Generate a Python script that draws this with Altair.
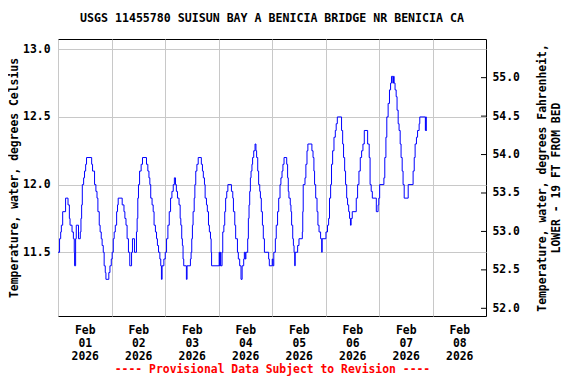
import altair as alt
import pandas as pd

# hours since 2026-02-01 00:00 at which the reading changes, and the reading (deg C)
hours = [0.0, 0.7, 1.2, 1.5, 2.1, 3.4, 4.5, 5.1, 5.4, 6.3, 6.9, 7.3, 7.45, 7.9, 8.2, 9.2, 10.0, 10.3, 10.6, 10.9,
         11.5, 11.9, 12.4, 12.8, 15.1, 15.5, 16.4, 17.0, 17.5, 17.9, 18.5, 18.9, 19.4, 19.8, 20.3, 20.7, 21.2, 21.5,
         22.8, 23.3, 23.9, 24.3, 24.8, 25.2, 25.7, 26.3, 26.7, 27.0, 28.8, 29.6, 30.0, 30.5, 31.0, 31.6, 32.2, 33.0,
         33.4, 34.3, 35.2, 35.5, 35.8, 36.1, 36.6, 37.3, 37.9, 39.7, 40.3, 40.8, 41.2, 41.6, 42.2, 42.7, 43.1, 43.7,
         44.2, 44.6, 45.1, 45.7, 46.1, 46.4, 46.7, 47.5, 48.1, 48.7, 49.3, 49.9, 50.5, 51.1, 51.7, 52.2, 52.7, 53.1,
         53.6, 54.3, 54.8, 55.1, 55.5, 55.8, 56.1, 56.4, 57.6, 57.9, 59.4, 59.7, 60.0, 60.3, 60.6, 61.1, 61.4, 61.8,
         62.3, 62.9, 64.3, 64.8, 65.2, 65.7, 66.0, 66.6, 67.0, 67.5, 67.9, 68.4, 68.7, 68.9, 72.3, 72.5, 72.8, 73.0,
         73.6, 73.9, 74.4, 74.8, 75.2, 75.7, 76.2, 77.8, 78.4, 78.7, 79.3, 79.7, 80.5, 80.9, 81.5, 82.1, 82.6, 83.3,
         83.6, 84.0, 84.3, 85.1, 85.4, 85.7, 86.0, 86.3, 86.6, 87.0, 87.3, 87.8, 88.4, 88.8, 89.1, 89.6, 90.0, 90.5,
         90.8, 91.2, 91.7, 92.1, 92.6, 94.5, 94.8, 96.1, 96.4, 96.8, 97.5, 97.9, 98.5, 99.0, 99.6, 100.0, 100.5,
         100.9, 101.4, 102.6, 103.0, 103.3, 103.6, 104.2, 104.5, 104.8, 105.3, 105.6, 105.9, 106.2, 106.4, 107.5,
         108.1, 109.6, 109.8, 110.0, 110.8, 111.2, 111.7, 112.1, 113.9, 114.4, 114.8, 115.1, 115.6, 116.2, 116.6,
         117.1, 117.8, 118.3, 118.5, 120.2, 120.9, 121.4, 121.8, 122.3, 122.7, 123.2, 123.8, 124.4, 124.8, 125.3,
         127.2, 127.7, 128.1, 128.6, 129.0, 129.5, 129.9, 130.4, 130.8, 131.2, 131.5, 132.0, 133.8, 134.4, 135.0,
         135.6, 136.2, 136.8, 137.4, 138.9, 139.6, 140.0, 140.5, 141.0, 142.8, 143.6, 143.9, 144.3, 146.2, 146.6,
         147.1, 147.5, 148.1, 148.7, 149.2, 149.6, 150.2, 150.5, 150.8, 151.2, 151.7, 152.1, 152.6, 153.0, 153.5,
         153.9, 154.4, 154.8, 155.3, 157.1, 159.3, 159.8, 160.2, 160.8, 161.3, 162.0, 162.3, 164.8, 165.0, 165.2,
         165.5]
temps = [11.5, 11.6, 11.65, 11.7, 11.8, 11.9, 11.85, 11.75, 11.7, 11.65, 11.6, 11.5, 11.4, 11.6, 11.7, 11.6, 11.65,
         11.75, 11.85, 12.0, 12.05, 12.1, 12.15, 12.2, 12.15, 12.1, 12.0, 11.95, 11.9, 11.8, 11.7, 11.65, 11.6, 11.55,
         11.5, 11.4, 11.35, 11.3, 11.35, 11.4, 11.45, 11.5, 11.6, 11.65, 11.7, 11.8, 11.85, 11.9, 11.85, 11.8, 11.75,
         11.7, 11.6, 11.5, 11.4, 11.5, 11.6, 11.5, 11.65, 11.75, 11.9, 12.0, 12.1, 12.15, 12.2, 12.15, 12.1, 12.05,
         12.0, 11.9, 11.85, 11.8, 11.7, 11.65, 11.6, 11.55, 11.5, 11.45, 11.4, 11.3, 11.4, 11.45, 11.5, 11.6, 11.7,
         11.8, 11.9, 11.95, 12.0, 12.05, 12.0, 11.95, 11.9, 11.85, 11.75, 11.7, 11.6, 11.55, 11.45, 11.4, 11.3, 11.4,
         11.45, 11.5, 11.6, 11.7, 11.8, 11.9, 12.0, 12.1, 12.15, 12.2, 12.15, 12.1, 12.05, 12.0, 11.9, 11.85, 11.8,
         11.7, 11.65, 11.6, 11.5, 11.4, 11.5, 11.4, 11.5, 11.4, 11.5, 11.65, 11.7, 11.8, 11.9, 11.95, 12.0, 11.95,
         11.9, 11.8, 11.7, 11.6, 11.5, 11.45, 11.4, 11.3, 11.4, 11.45, 11.5, 11.45, 11.5, 11.6, 11.75, 11.85, 11.95,
         12.05, 12.1, 12.15, 12.2, 12.25, 12.3, 12.25, 12.2, 12.1, 12.0, 11.95, 11.9, 11.8, 11.7, 11.6, 11.5, 11.45,
         11.4, 11.45, 11.4, 11.5, 11.6, 11.7, 11.8, 11.9, 12.0, 12.05, 12.1, 12.15, 12.2, 12.15, 12.05, 11.95, 11.9,
         11.85, 11.8, 11.7, 11.6, 11.55, 11.5, 11.4, 11.5, 11.55, 11.6, 11.65, 11.8, 12.0, 12.05, 12.15, 12.25, 12.3,
         12.25, 12.2, 12.1, 12.0, 11.9, 11.8, 11.7, 11.65, 11.6, 11.5, 11.6, 11.65, 11.7, 11.75, 11.9, 12.0, 12.15,
         12.25, 12.35, 12.4, 12.45, 12.5, 12.4, 12.3, 12.2, 12.1, 12.0, 11.9, 11.85, 11.8, 11.75, 11.7, 11.75, 11.8,
         11.9, 12.0, 12.1, 12.2, 12.25, 12.3, 12.4, 12.3, 12.2, 12.0, 11.95, 11.9, 11.8, 11.85, 11.9, 12.0, 12.05,
         12.2, 12.35, 12.5, 12.6, 12.7, 12.75, 12.8, 12.75, 12.8, 12.75, 12.7, 12.65, 12.55, 12.45, 12.4, 12.3, 12.2,
         12.1, 12.0, 11.9, 12.0, 12.1, 12.2, 12.3, 12.35, 12.4, 12.45, 12.5, 12.4, 12.5, 12.4, 12.4]

c_ticks = [11.5, 12.0, 12.5, 13.0]
f_ticks = [52.0, 52.5, 53.0, 53.5, 54.0, 54.5, 55.0]
day_ticks = [1, 2, 3, 4, 5, 6, 7, 8]

TITLE = "USGS 11455780 SUISUN BAY A BENICIA BRIDGE NR BENICIA CA"
LEFT_TITLE = "Temperature, water, degrees Celsius"
RIGHT_TITLE = ["Temperature, water, degrees Fahrenheit,", "LOWER - 19 FT FROM BED"]
FOOTER = "---- Provisional Data Subject to Revision ----"

FONT = "DejaVu Sans Mono"
W, H = 428, 277

base_t = pd.Timestamp("2026-02-01 00:00:00")
df = pd.DataFrame({
    "t": [(base_t + pd.Timedelta(hours=h)).strftime("%Y-%m-%dT%H:%M:%S") for h in hours],
    "c": temps,
})
ftick_df = pd.DataFrame({"f": f_ticks})

x_scale = alt.Scale(domain=[alt.DateTime(year=2026, month=2, date=1, hours=0),
                            alt.DateTime(year=2026, month=2, date=9, hours=0)])
c_scale = alt.Scale(domain=[11.029, 13.076], nice=False, zero=False)
f_scale = alt.Scale(domain=[51.9, 55.503], nice=False, zero=False)

x_enc = alt.X(
    "t:T", scale=x_scale,
    axis=alt.Axis(
        values=[alt.DateTime(year=2026, month=2, date=d, hours=0) for d in day_ticks],
        labelExpr="[timeFormat(datum.value, '%b'), timeFormat(datum.value, '%d'), timeFormat(datum.value, '%Y')]",
        labelOffset=26.75, labelLineHeight=13, labelPadding=8, labelFlush=False,
        grid=True, gridColor="#c8c8c8", gridOpacity=1, ticks=False, domain=False,
        title=FOOTER, titleColor="#ff0000", titlePadding=2,
    ),
)

c_line = alt.Chart(df).mark_line(interpolate="step-after", color="#0000ff", strokeWidth=1).encode(
    x=x_enc,
    y=alt.Y("c:Q", scale=c_scale, axis=alt.Axis(
        orient="left", values=c_ticks, format=".1f", grid=True, gridColor="#c8c8c8", gridOpacity=1,
        ticks=False, domain=False, labelPadding=8, title=LEFT_TITLE, titlePadding=3)),
)

f_tick_marks = alt.Chart(ftick_df).mark_rule(color="black", strokeWidth=1).encode(
    y=alt.Y("f:Q", scale=f_scale, axis=alt.Axis(
        orient="right", values=f_ticks, format=".1f", grid=False, ticks=False, domain=False,
        labelPadding=6, title=RIGHT_TITLE, titleAngle=270, titlePadding=14, titleLineHeight=14)),
    x=alt.value(W - 5), x2=alt.value(W),
)

chart = alt.layer(c_line, f_tick_marks).resolve_scale(y="independent").properties(
    width=W, height=H,
    title=alt.TitleParams(TITLE, font=FONT, fontSize=11.6, fontWeight="bold", color="black", anchor="middle", offset=14),
    autosize=alt.AutoSizeParams(type="none"),
    padding={"left": 50, "top": 31, "right": 560 - 50 - W, "bottom": 368 - 31 - H},
).configure(background="white").configure_view(stroke="black", strokeWidth=1).configure_axis(
    labelFont=FONT, labelFontSize=11.4, labelFontWeight="bold", labelColor="black",
    titleFont=FONT, titleFontSize=11.4, titleFontWeight="bold", titleColor="black",
)

chart.save("out.html", embed_options={"renderer": "svg", "actions": False})
